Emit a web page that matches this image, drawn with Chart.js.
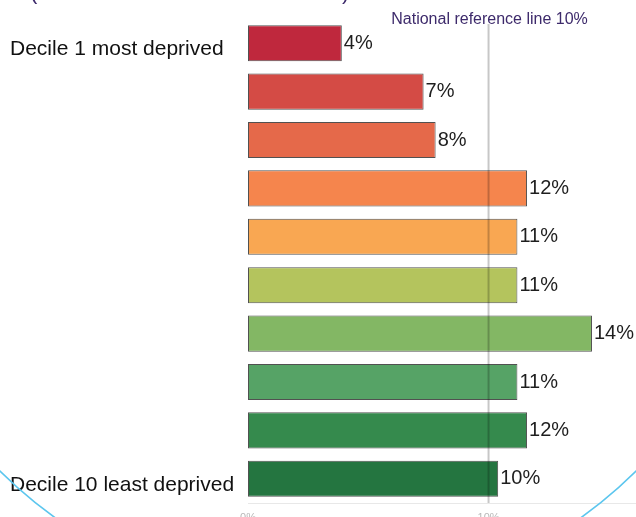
<!DOCTYPE html>
<html>
<head>
<meta charset="utf-8">
<script src="https://cdn.jsdelivr.net/npm/chart.js@4"></script>
<style>
  html, body { margin: 0; padding: 0; background: #ffffff; overflow: hidden; width: 636px; height: 517px; }
  #wrap { position: absolute; left: 0; top: 0; width: 636px; height: 530px; }
</style>
</head>
<body>
<div id="wrap"><canvas id="c" width="636" height="530"></canvas></div>
<script>
const categories = [
  "Decile 1 most deprived", "Decile 2", "Decile 3", "Decile 4", "Decile 5",
  "Decile 6", "Decile 7", "Decile 8", "Decile 9", "Decile 10 least deprived"
];
const values = [3.9, 7.3, 7.8, 11.6, 11.2, 11.2, 14.3, 11.2, 11.6, 10.4];
const valueLabels = ["4%", "7%", "8%", "12%", "11%", "11%", "14%", "11%", "12%", "10%"];
const shownCategoryLabels = ["Decile 1 most deprived", "Decile 10 least deprived"];
const barColors = ["#bf283d", "#d44b45", "#e5694a", "#f5854d", "#f9a752", "#b4c45d", "#83b764", "#56a366", "#358a4d", "#247540"];
const referenceValue = 10;
const referenceLabel = "National reference line 10%";
const xTickValues = [0, 10];
const titleFragments = ["(", ")"];

Chart.defaults.font.family = "'Liberation Sans', Arial, sans-serif";

const decorPlugin = {
  id: 'decor',
  afterDatasetsDraw(chart) {
    const ctx = chart.ctx;
    const xs = chart.scales.x;
    const meta = chart.getDatasetMeta(0);
    ctx.save();
    // value labels
    ctx.font = "20px 'Liberation Sans', Arial, sans-serif";
    ctx.fillStyle = "#1e1e1e";
    ctx.textAlign = 'left';
    ctx.textBaseline = 'middle';
    meta.data.forEach((bar, i) => {
      ctx.fillText(valueLabels[i], bar.x + 2, bar.y);
    });
    // reference line
    const rx = xs.getPixelForValue(referenceValue);
    ctx.strokeStyle = 'rgba(0,0,0,0.22)';
    ctx.lineWidth = 2;
    ctx.beginPath();
    ctx.moveTo(rx, chart.chartArea.top + 5);
    ctx.lineTo(rx, chart.chartArea.bottom);
    ctx.stroke();
    ctx.font = "16px 'Liberation Sans', Arial, sans-serif";
    ctx.fillStyle = "#3d2a6b";
    ctx.textAlign = 'center';
    ctx.textBaseline = 'alphabetic';
    ctx.fillText(referenceLabel, rx + 1, 24);
    ctx.restore();
  },
  afterDraw(chart) {
    const ctx = chart.ctx;
    ctx.save();
    // cut-off title fragments
    ctx.font = "22px 'Liberation Sans', Arial, sans-serif";
    ctx.fillStyle = "#3d2a6b";
    ctx.textAlign = 'left';
    ctx.textBaseline = 'alphabetic';
    ctx.fillText(titleFragments[0], 30, -1);
    ctx.fillText(titleFragments[1], 342, -1);
    // decorative slide circle
    ctx.strokeStyle = '#5cc6ee';
    ctx.lineWidth = 1.6;
    ctx.beginPath();
    ctx.arc(318, 150, 452, 0, Math.PI * 2);
    ctx.stroke();
    ctx.restore();
  }
};

new Chart(document.getElementById('c'), {
  type: 'bar',
  data: {
    labels: categories,
    datasets: [{
      data: values,
      backgroundColor: barColors,
      borderColor: 'rgba(50,50,50,0.85)',
      borderWidth: 1,
      borderSkipped: false,
      barPercentage: 0.745,
      categoryPercentage: 1
    }]
  },
  options: {
    indexAxis: 'y',
    responsive: false,
    animation: false,
    layout: { padding: { left: 10, top: 19, right: 0, bottom: 0 } },
    plugins: { legend: { display: false }, tooltip: { enabled: false }, title: { display: false } },
    scales: {
      y: {
        grid: { display: false, drawTicks: false },
        border: { display: false },
        afterFit(scale) { scale.width = 238; },
        ticks: {
          crossAlign: 'far',
          labelOffset: 6,
          color: '#111111',
          font: { size: 21 },
          autoSkip: false,
          callback(v, i) {
            const l = categories[i];
            return shownCategoryLabels.includes(l) ? l : '';
          }
        }
      },
      x: {
        min: 0,
        max: 16.13,
        grid: { display: false, drawTicks: false },
        border: { display: true, color: '#e8e8e8', width: 1 },
        afterFit(scale) { scale.height = 27; },
        afterBuildTicks(scale) { scale.ticks = xTickValues.map(v => ({ value: v })); },
        ticks: {
          padding: 8,
          color: '#b8b8b8',
          font: { size: 11 },
          callback(v) { return v + '%'; }
        }
      }
    }
  },
  plugins: [decorPlugin]
});
</script>
</body>
</html>
